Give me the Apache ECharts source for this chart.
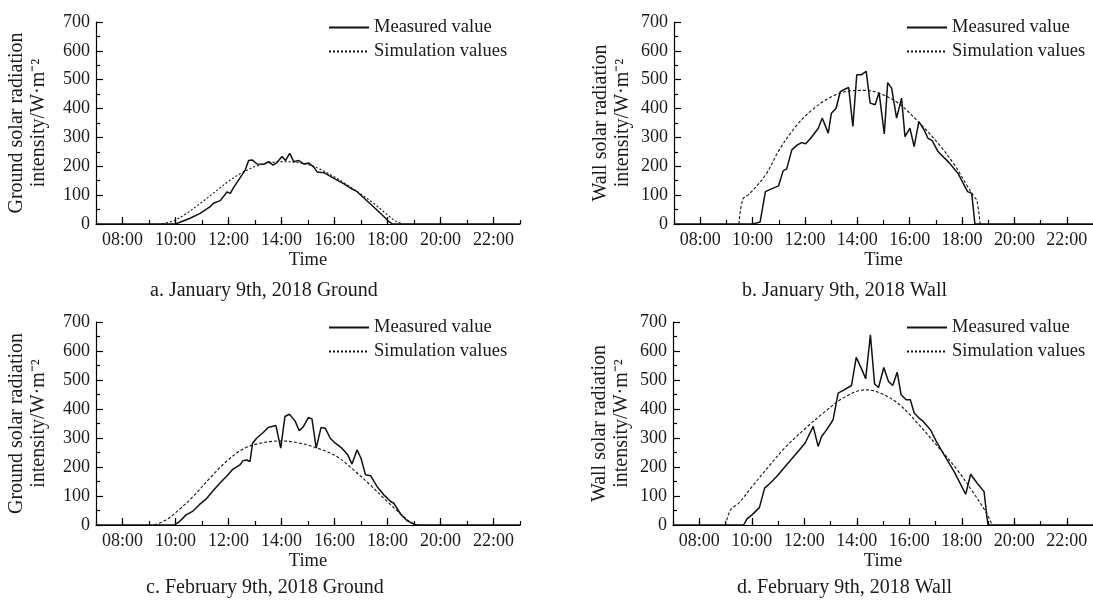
<!DOCTYPE html>
<html>
<head>
<meta charset="utf-8">
<script src="https://cdn.jsdelivr.net/npm/echarts@6/dist/echarts.min.js"></script>
<style>html,body{margin:0;padding:0;background:#fff}#c{width:1093px;height:600px}</style>
</head>
<body>
<div id="c"></div>
<script>
// ---- data (hour of day, W/m2) ----
const timeLabelHours = [8, 10, 12, 14, 16, 18, 20, 22];
const seriesNames = ['Measured value', 'Simulation values'];
const captions = ['a. January 9th, 2018 Ground', 'b. January 9th, 2018 Wall', 'c. February 9th, 2018 Ground', 'd. February 9th, 2018 Wall'];
const yNames = ['Ground solar radiation\nintensity/W·m⁻²', 'Wall solar radiation\nintensity/W·m⁻²', 'Ground solar radiation\nintensity/W·m⁻²', 'Wall solar radiation\nintensity/W·m⁻²'];

const aMeasured = [[7,0],[10.0,0],[10.55,20],[10.93,37],[11.31,60],[11.43,72],[11.69,81],[11.81,95],[11.94,111],[12.07,106],[12.19,126],[12.51,170],[12.63,187],[12.76,220],[12.89,222],[13.08,208],[13.33,207],[13.52,216],[13.68,204],[13.83,213],[14.02,234],[14.15,220],[14.31,245],[14.46,216],[14.65,220],[14.84,208],[15.03,211],[15.22,197],[15.35,180],[15.60,178],[15.98,158],[16.36,139],[16.61,124],[16.86,112],[17.12,89],[17.49,58],[17.87,25],[18.06,8],[18.19,0],[23,0]];
const aSimulated = [[9.5,0],[10.0,14],[10.5,42],[11.0,76],[11.5,112],[12.0,148],[12.5,177],[13.0,199],[13.5,211],[14.0,216],[14.5,214],[15.0,206],[15.5,188],[16.0,163],[16.5,134],[17.0,103],[17.5,70],[18.0,32],[18.3,10],[18.6,0]];

const bMeasured = [[7,0],[10.01,0],[10.29,7],[10.49,112],[10.70,121],[10.99,132],[11.17,185],[11.30,190],[11.50,257],[11.71,274],[11.88,282],[12.03,278],[12.22,297],[12.51,332],[12.66,367],[12.89,315],[13.01,384],[13.19,401],[13.35,459],[13.52,467],[13.67,473],[13.83,338],[13.98,517],[14.15,517],[14.34,529],[14.49,419],[14.68,413],[14.83,456],[15.03,312],[15.16,490],[15.31,471],[15.50,367],[15.69,436],[15.82,303],[16.01,332],[16.17,268],[16.35,355],[16.55,326],[16.70,297],[16.86,289],[17.08,251],[17.52,211],[17.84,176],[18.21,112],[18.37,106],[18.49,0],[23,0]];
const bSimulated = [[9.48,0],[9.63,86],[9.88,104],[10.51,172],[11.02,257],[11.65,338],[12.28,396],[13.04,442],[13.80,462],[14.30,463],[14.81,454],[15.56,419],[16.32,355],[17.08,280],[17.71,205],[18.21,130],[18.47,93],[18.57,81],[18.69,0]];

const cMeasured = [[7,0],[9.96,0],[10.15,12],[10.40,35],[10.66,48],[10.91,71],[11.16,90],[11.41,117],[11.67,144],[11.92,167],[12.17,193],[12.43,207],[12.55,222],[12.68,224],[12.81,219],[12.91,282],[13.06,299],[13.31,319],[13.50,336],[13.79,343],[13.97,265],[14.13,374],[14.30,382],[14.51,359],[14.67,325],[14.83,340],[15.02,371],[15.15,366],[15.31,265],[15.49,336],[15.65,334],[15.84,299],[16.03,282],[16.28,265],[16.50,242],[16.66,210],[16.85,259],[17.00,230],[17.17,173],[17.36,170],[17.61,132],[17.86,104],[18.12,81],[18.24,75],[18.50,37],[18.75,14],[19.07,0],[23,0]];
const cSimulated = [[9.20,0],[9.64,17],[10.15,54],[10.66,98],[11.29,161],[11.92,219],[12.55,262],[13.19,282],[14.0,290],[14.70,282],[15.45,262],[16.09,236],[16.72,190],[17.35,138],[17.99,81],[18.50,38],[18.88,9],[19.13,0]];

const dMeasured = [[7,0],[9.69,0],[9.82,21],[10.01,35],[10.29,60],[10.49,127],[10.70,144],[10.95,167],[12.03,282],[12.34,340],[12.53,271],[12.66,305],[12.85,328],[13.10,363],[13.29,455],[13.52,466],[13.80,481],[13.98,578],[14.20,535],[14.34,504],[14.52,656],[14.68,486],[14.83,474],[15.03,543],[15.21,495],[15.37,481],[15.54,527],[15.69,449],[15.88,432],[16.04,432],[16.19,386],[16.38,368],[16.51,359],[16.70,340],[16.83,325],[17.02,290],[17.33,242],[17.71,184],[18.15,106],[18.34,175],[18.59,144],[18.85,115],[18.95,35],[19.00,0],[23,0]];
const dSimulated = [[9.0,0],[9.19,52],[9.50,75],[10.01,132],[10.64,201],[11.27,267],[12.03,332],[12.79,391],[13.54,441],[14.30,466],[14.81,458],[15.56,420],[16.32,351],[17.08,271],[17.83,190],[18.46,109],[18.91,46],[19.16,0]];

const measuredSets = [aMeasured, bMeasured, cMeasured, dMeasured];
const simulatedSets = [aSimulated, bSimulated, cSimulated, dSimulated];

// ---- layout ----
const FONT = '"Liberation Serif", "Times New Roman", serif';
const TXT = '#1a1a1a';
const grids = [
  {left: 96, top: 22, width: 424, height: 202},
  {left: 674, top: 22, width: 424, height: 202},
  {left: 96, top: 322, width: 424, height: 203},
  {left: 673, top: 322, width: 424, height: 203}
];
const yNameGaps = [46, 40, 46, 40];
const legendPos = [{left: 328, top: 18}, {left: 906, top: 18}, {left: 328, top: 318}, {left: 906, top: 318}];
const captionPos = [{left: 150, top: 281}, {left: 742, top: 281}, {left: 146, top: 578}, {left: 737, top: 578}];
const simDash = [[2, 2], [3, 2], [3, 2], [3, 2]];

const fmtHour = v => (v < 10 ? '0' : '') + v + ':00';

const xAxis = [], yAxis = [], series = [], legend = [], title = [];
grids.forEach((g, i) => {
  xAxis.push({
    type: 'value', gridIndex: i, min: 7, max: 23, interval: 1,
    name: 'Time', nameLocation: 'middle', nameGap: 27,
    nameTextStyle: {fontFamily: FONT, fontSize: 18.5, color: TXT},
    axisLine: {lineStyle: {color: '#000', width: 1.2}},
    axisTick: {inside: true, length: 4, lineStyle: {color: '#000', width: 1.2}},
    axisLabel: {customValues: timeLabelHours, formatter: fmtHour, fontFamily: FONT, fontSize: 18, color: TXT, margin: 7},
    splitLine: {show: false}
  });
  xAxis.push({
    type: 'value', gridIndex: i, min: 7, max: 23, position: 'bottom', offset: 0,
    axisLine: {show: false},
    axisTick: {inside: true, length: 7, customValues: timeLabelHours, lineStyle: {color: '#000', width: 1.2}},
    axisLabel: {show: false},
    splitLine: {show: false}
  });
  yAxis.push({
    type: 'value', gridIndex: i, min: 0, max: 700, interval: 100,
    name: yNames[i], nameLocation: 'middle', nameGap: yNameGaps[i],
    nameTextStyle: {fontFamily: FONT, fontSize: 20, color: TXT, lineHeight: 22},
    axisLine: {show: true, lineStyle: {color: '#000', width: 1.2}},
    axisTick: {show: true, inside: true, length: 7, lineStyle: {color: '#000', width: 1.2}},
    minorTick: {show: true, splitNumber: 2, length: 4, lineStyle: {color: '#000', width: 1.2}},
    axisLabel: {fontFamily: FONT, fontSize: 18, color: TXT, margin: 6},
    splitLine: {show: false}
  });
  series.push({
    name: seriesNames[0], type: 'line', xAxisIndex: 2 * i, yAxisIndex: i,
    data: measuredSets[i], symbol: 'none',
    lineStyle: {color: '#111', width: 1.5}, itemStyle: {color: '#111'}
  });
  series.push({
    name: seriesNames[1], type: 'line', xAxisIndex: 2 * i, yAxisIndex: i,
    data: simulatedSets[i], symbol: 'none', smooth: 0.35,
    lineStyle: {color: '#111', width: 1.1, type: simDash[i]}, itemStyle: {color: '#111'}
  });
  legend.push({
    orient: 'vertical', left: legendPos[i].left, top: legendPos[i].top,
    data: seriesNames, itemWidth: 40, itemHeight: 14, itemGap: 5, padding: 0,
    selectedMode: false,
    itemStyle: {opacity: 0},
    textStyle: {fontFamily: FONT, fontSize: 18.5, color: TXT}
  });
  title.push({
    text: captions[i], left: captionPos[i].left, top: captionPos[i].top, padding: 0,
    textStyle: {fontFamily: FONT, fontSize: 20, fontWeight: 'normal', color: TXT}
  });
});

const chart = echarts.init(document.getElementById('c'), null, {renderer: 'canvas'});
chart.setOption({
  animation: false,
  backgroundColor: '#fff',
  title, grid: grids, xAxis, yAxis, series, legend
});
</script>
</body>
</html>
